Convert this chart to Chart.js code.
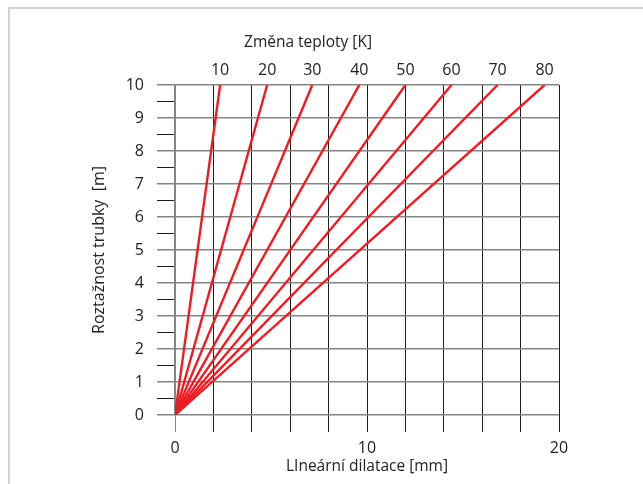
<!DOCTYPE html>
<html>
<head>
<meta charset="utf-8">
<script src="https://cdn.jsdelivr.net/npm/chart.js@4/dist/chart.umd.min.js"></script>
<style>
    html, body { margin: 0; padding: 0; background: #fff; }
    #frame { position: absolute; left: 8px; top: 7px; width: 700px; height: 600px;
             border-left: 2px solid #d2d2d2; border-top: 2px solid #d2d2d2; }
    #wrap { position: absolute; left: 0; top: 0; width: 643px; height: 484px; }
</style>
</head>
<body>
<div id="frame"></div>
<div id="wrap"><canvas id="dilatace-chart"></canvas></div>
<script>
// Values
const tempChanges = [10, 20, 30, 40, 50, 60, 70, 80];          // K
const pipeLength = [0, 10];                                      // m
const dilatationAtTop = [2.35, 4.8, 7.15, 9.6, 12.0, 14.4, 16.8, 19.25]; // mm at 10 m
const xTicks = [0, 10, 20];
const yTicks = [0, 1, 2, 3, 4, 5, 6, 7, 8, 9, 10];

const FONT = "'Open Sans', 'Noto Sans', sans-serif";
const GRAY = '#858585';
const DARK = '#1e1e1e';

const datasets = tempChanges.map((t, i) => ({
    label: `${t} K`,
    data: [{ x: 0, y: pipeLength[0] }, { x: dilatationAtTop[i], y: pipeLength[1] }],
    borderColor: '#ec1c24',
    borderWidth: 2.4,
    pointRadius: 0,
    fill: false,
    xAxisID: 'x',
}));

// Title over the top axis
const topTitle = {
    id: 'topTitle',
    afterDraw(chart) {
        const { ctx } = chart;
        ctx.save();
        ctx.font = `15.5px ${FONT}`;
        ctx.fillStyle = '#222';
        ctx.textAlign = 'center';
        ctx.textBaseline = 'middle';
        ctx.fillText('Změna teploty [K]', 308, 43);
        ctx.restore();
    },
};

new Chart(document.getElementById('dilatace-chart'), {
    type: 'line',
    data: { datasets },
    plugins: [topTitle],
    options: {
        responsive: true,
        maintainAspectRatio: false,
        animation: false,
        layout: { padding: { left: 90, right: 84, top: 55, bottom: 8 } },
        plugins: { legend: { display: false }, tooltip: { enabled: false } },
        scales: {
            x: {
                type: 'linear',
                position: 'bottom',
                min: 0,
                max: 20,
                afterFit: (s) => { s.height = 61; },
                ticks: {
                    stepSize: 2,
                    autoSkip: false,
                    maxRotation: 0,
                    padding: 7,
                    color: '#222',
                    font: { family: FONT, size: 16 },
                    callback: (v) => (xTicks.includes(v) ? v : ''),
                },
                grid: {
                    color: (c) => (c.tick && c.tick.value === 0 ? GRAY : DARK),
                    tickColor: (c) => (c.tick && c.tick.value === 0 ? GRAY : DARK),
                    lineWidth: 1,
                    tickLength: 17,
                },
                border: { display: false },
                title: {
                    display: true,
                    text: 'LIneární dilatace [mm]',
                    color: '#222',
                    font: { family: FONT, size: 15.5 },
                    padding: { top: 0, bottom: 0 },
                },
            },
            x2: {
                type: 'linear',
                position: 'top',
                min: 0,
                max: 20,
                afterFit: (s) => { s.height = 30; },
                afterBuildTicks: (s) => { s.ticks = dilatationAtTop.map((v) => ({ value: v })); },
                ticks: {
                    autoSkip: false,
                    maxRotation: 0,
                    padding: 5,
                    color: '#222',
                    font: { family: FONT, size: 16 },
                    callback: (v, i) => tempChanges[i],
                },
                grid: { display: false, drawTicks: false },
                border: { display: false },
            },
            y: {
                type: 'linear',
                min: 0,
                max: 10,
                afterFit: (s) => { s.width = 85; },
                ticks: {
                    stepSize: 0.5,
                    autoSkip: false,
                    padding: 13,
                    color: '#222',
                    font: { family: FONT, size: 16 },
                    callback: (v) => (yTicks.includes(v) ? v : ''),
                },
                grid: {
                    color: (c) => (c.tick && Number.isInteger(c.tick.value) ? GRAY : 'rgba(0,0,0,0)'),
                    tickColor: (c) => (c.tick && Number.isInteger(c.tick.value) ? GRAY : DARK),
                    lineWidth: (c) => (c.tick && Number.isInteger(c.tick.value) ? 1.5 : 1),
                    tickLength: 18,
                },
                border: { display: true, color: GRAY, width: 1.5 },
                title: {
                    display: true,
                    text: 'Roztažnost trubky  [m]',
                    color: '#222',
                    font: { family: FONT, size: 16 },
                    padding: { top: 0, bottom: 0 },
                },
            },
        },
    },
});
</script>
</body>
</html>
